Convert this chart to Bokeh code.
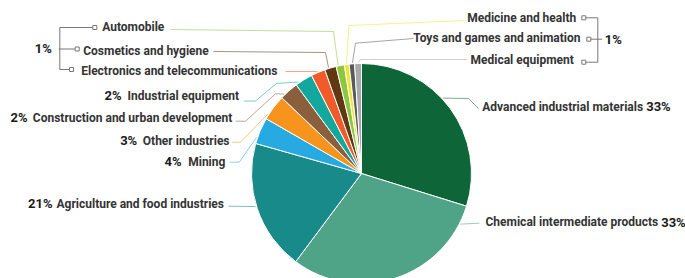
import math
from bokeh.plotting import figure
from bokeh.models import Range1d, ColumnDataSource
from bokeh.embed import file_html
from bokeh.resources import INLINE
from bokeh.core.properties import value

# ---------------- data ----------------
categories = [
    "Advanced industrial materials",
    "Chemical intermediate products",
    "Agriculture and food industries",
    "Mining",
    "Other industries",
    "Construction and urban development",
    "Industrial equipment",
    "Electronics and telecommunications",
    "Cosmetics and hygiene",
    "Automobile",
    "Medicine and health",
    "Toys and games and animation",
    "Medical equipment",
]
shares = [29.8, 30.4, 19.2, 3.9, 3.8, 2.8, 2.6, 2.1, 1.7, 1.2, 0.7, 0.8, 1.0]
pct_labels = ["33%", "33%", "21%", "4%", "3%", "2%", "2%", "1%", "1%", "1%", "1%", "1%", "1%"]
colors = [
    "#0e6638", "#4fa386", "#188a89", "#27a9e1", "#f7941d", "#8b5e3c",
    "#13a89e", "#f15a29", "#603913", "#8dc63f", "#eee631", "#58595b", "#a7a9ac",
]

# ---------------- layout ----------------
W, H = 685, 278
OFF = 0
CX, CY, R = 361, 173, 110          # pie centre / radius in page pixels
NAME_FONT, PCT_FONT = "12px", "13px"
FONT = value("Roboto")

def Y(sy):
    return -sy

p = figure(width=W, height=H, output_backend="svg", toolbar_location=None,
           x_range=Range1d(OFF, OFF + W), y_range=Range1d(-(OFF + H), -OFF),
           min_border=0, x_axis_location=None, y_axis_location=None)
p.outline_line_color = None
p.grid.visible = False
p.background_fill_color = "white"
p.border_fill_color = "white"

# wedge angles (clockwise from 12 o'clock)
total = sum(shares)
cw_start, cw_end = [], []
acc = 0.0
for v in shares:
    cw_start.append(acc)
    acc += v / total * 360.0
    cw_end.append(acc)

src = ColumnDataSource(dict(
    start=[90 - e for e in cw_end],
    end=[90 - s for s in cw_start],
    color=colors,
))
p.wedge(x=CX, y=Y(CY), radius=R, start_angle="start", end_angle="end",
        start_angle_units="deg", end_angle_units="deg", direction="anticlock",
        fill_color="color", line_color="white", line_width=1, source=src)

# leader lines: (fraction inside slice, elbow points, end point near label)
leaders = [
    (0.44, [(468, 98)], (478, 108)),
    (0.09, [], (479, 222.7)),
    (0.52, [], (228, 205.7)),
    (0.22, [(238.7, 161.7)], (229.3, 161.7)),
    (0.18, [(240, 141.7)], (231.7, 141.7)),
    (0.21, [(275, 93.3), (245, 120.7)], (235, 120.7)),
    (0.20, [(276, 83), (255, 100.5)], (243.3, 100.5)),
    (0.50, [(315, 71)], (285, 71)),
    (0.35, [(325, 52)], (213, 51)),
    (0.26, [(333, 31)], (170, 29)),
    (0.48, [(348.3, 25)], (465, 20)),
    (0.62, [(355, 42.7)], (413, 38)),
    (0.56, [(360, 59)], (466.7, 59)),
]
lxs, lys = [], []
for i, (f, elbows, end) in enumerate(leaders):
    ang = math.radians(cw_start[i] + f * (cw_end[i] - cw_start[i]))
    ax = CX + (R + 1) * math.sin(ang)
    ay = CY - (R + 1) * math.cos(ang)
    pts = [(ax, ay)] + elbows + [end]
    lxs.append([pt[0] for pt in pts])
    lys.append([Y(pt[1]) for pt in pts])
p.multi_line(xs=lxs, ys=lys, line_color=colors, line_alpha=0.55, line_width=1)

# category names
name_pos = [
    (481.7, 106, "left"),
    (485, 221.7, "left"),
    (56, 203.3, "left"),
    (187.7, 161, "left"),
    (142.3, 140, "left"),
    (32.3, 117.3, "left"),
    (127, 95, "left"),
    (80.7, 70.7, "left"),
    (82.7, 50, "left"),
    (101.7, 26.7, "left"),
    (575.7, 17.3, "right"),
    (580, 37.7, "right"),
    (573.3, 59, "right"),
]
for align in ("left", "right"):
    idx = [i for i, q in enumerate(name_pos) if q[2] == align]
    p.text(x=[name_pos[i][0] for i in idx], y=[Y(name_pos[i][1]) for i in idx],
           text=[categories[i] for i in idx], text_align=align,
           text_baseline="middle", text_font=FONT, text_font_size=NAME_FONT,
           text_font_style="bold", text_color="#333333")

# percentage labels (individual)
pct_pos = {
    0: (645.7, 106, "left"),
    1: (660.7, 221.7, "left"),
    2: (52, 203.3, "right"),
    3: (181, 161, "right"),
    4: (136.7, 140, "right"),
    5: (27, 117.3, "right"),
    6: (121, 95, "right"),
}
for align in ("left", "right"):
    idx = [i for i, q in pct_pos.items() if q[2] == align]
    p.text(x=[pct_pos[i][0] for i in idx], y=[Y(pct_pos[i][1]) for i in idx],
           text=[pct_labels[i] for i in idx], text_align=align,
           text_baseline="middle", text_font=FONT, text_font_size=PCT_FONT,
           text_font_style="bold", text_color="#1a1a1a")

# grouped 1% labels with brackets
group_pct = [(34.3, 48.3, pct_labels[8]), (604.3, 39, pct_labels[11])]
p.text(x=[g[0] for g in group_pct], y=[Y(g[1]) for g in group_pct],
       text=[g[2] for g in group_pct], text_align="left", text_baseline="middle",
       text_font=FONT, text_font_size=PCT_FONT, text_font_style="bold",
       text_color="#1a1a1a")

bracket = [
    [(59.3, 27), (59.3, 69)], [(59.3, 27), (93, 27)],
    [(58.3, 48.5), (75.5, 48.5)], [(59.3, 69), (69.5, 69)],
    [(597.3, 17.3), (597.3, 61.7)], [(584.5, 17.3), (597.3, 17.3)],
    [(589.5, 38.7), (601.7, 38.7)], [(584.5, 61.7), (597.3, 61.7)],
]
p.multi_line(xs=[[a[0] for a in b] for b in bracket],
             ys=[[Y(a[1]) for a in b] for b in bracket],
             line_color="#777777", line_width=1)
squares = [(94.3, 27), (76.7, 48.5), (71, 69), (583.3, 17.3), (588.3, 38.7), (583.3, 61.7)]
p.scatter(x=[s[0] for s in squares], y=[Y(s[1]) for s in squares], marker="square",
          size=4, fill_color="white", line_color="#777777", line_width=1)

open("out.html", "w").write(file_html(p, INLINE))
